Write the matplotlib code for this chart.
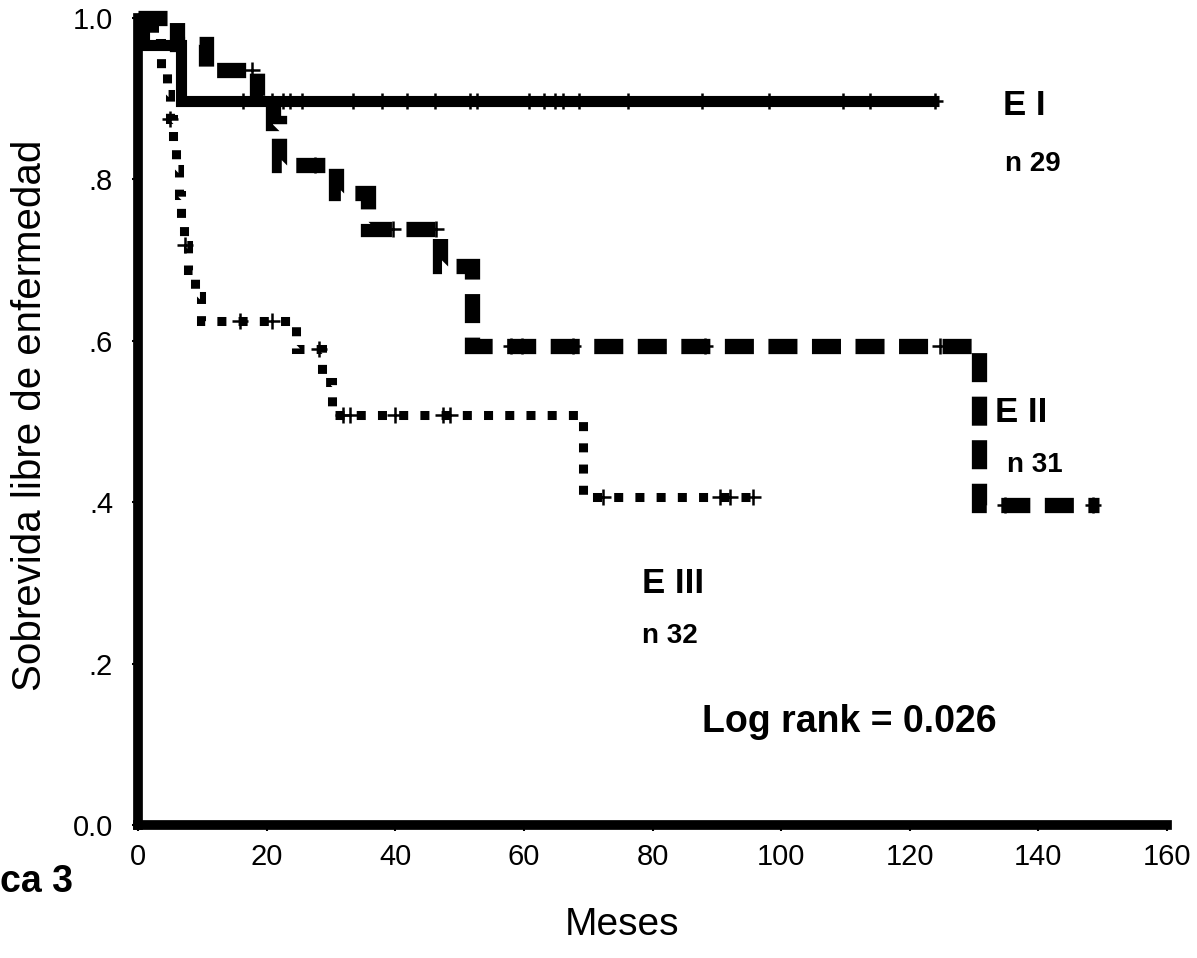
import numpy as np
import matplotlib
matplotlib.use("Agg")
import matplotlib.pyplot as plt

plt.rcParams["font.family"] = ["Liberation Sans", "DejaVu Sans"]

# ── data ──────────────────────────────────────────────────────────────────────
# E I : solid line
ei_t = [0, 1.0, 6.7]
ei_s = [1.0, 0.966, 0.897]
ei_end = 124.5
ei_cens = [16.3, 20.8, 22.6, 23.6, 25.5, 33.4, 37.9, 41.8, 46.2, 51.6, 52.7,
           60.8, 63.2, 64.9, 66.1, 68.6, 76.2, 87.7, 98.1, 109.6, 113.8, 123.9]

# E II : heavy dashed line
eii_t = [0, 6.0, 10.5, 18.5, 21.0, 22.0, 30.8, 35.8, 47.0, 52.0, 130.7]
eii_s = [1.0, 0.968, 0.935, 0.903, 0.870, 0.818, 0.783, 0.738, 0.693, 0.593, 0.397]
eii_end = 149.5
eii_cens = [17.8, 27.5, 39.7, 46.3, 58.0, 59.7, 67.7, 88.2, 124.7, 134.8, 148.5]

# E III : dotted line
eiii_t = [0, 2.5, 3.5, 4.5, 5.0, 5.4, 5.9, 6.3, 6.7, 7.2, 7.8, 8.8, 9.8,
          24.5, 28.6, 30.2, 69.2]
eiii_s = [1.0, 0.969, 0.938, 0.906, 0.875, 0.844, 0.813, 0.781, 0.750, 0.719,
          0.688, 0.656, 0.625, 0.590, 0.549, 0.508, 0.406]
eiii_end = 96.7
eiii_cens = [5.0, 7.3, 15.9, 20.8, 28.2, 31.9, 33.0, 40.0, 47.4, 48.5,
             72.3, 90.5, 92.0, 95.6]

x_ticks = [0, 20, 40, 60, 80, 100, 120, 140, 160]
y_ticks = [0.0, 0.2, 0.4, 0.6, 0.8, 1.0]
y_labels = ["0.0", ".2", ".4", ".6", ".8", "1.0"]


def step_at(t, times, surv):
    idx = np.searchsorted(times, t, side="right") - 1
    return surv[idx]


def draw_curve(ax, times, surv, end, cens, **kw):
    tt = list(times) + [end]
    ss = list(surv) + [surv[-1]]
    ax.step(tt, ss, where="post", color="black", clip_on=False,
            solid_capstyle="butt", dash_capstyle="butt",
            solid_joinstyle="miter", dash_joinstyle="miter", **kw)
    cy = [step_at(c, times, surv) for c in cens]
    ax.plot(cens, cy, linestyle="none", marker="+", markersize=12,
            markeredgewidth=1.8, color="black", clip_on=False)


fig = plt.figure(figsize=(11.97, 9.58), dpi=100)
ax = fig.add_axes([138 / 1197, 1 - 825 / 958, (1167 - 138) / 1197, (825 - 18) / 958])

draw_curve(ax, ei_t, ei_s, ei_end, ei_cens, linewidth=8, linestyle="-")
draw_curve(ax, eii_t, eii_s, eii_end, eii_cens, linewidth=11,
           linestyle=(0, (1.9, 0.95)))
draw_curve(ax, eiii_t, eiii_s, eiii_end, eiii_cens, linewidth=6.5,
           linestyle=(0, (1.0, 1.35)))

ax.set_xlim(0, 160)
ax.set_ylim(0, 1.0)
for side in ["top", "right"]:
    ax.spines[side].set_visible(False)
for side in ["left", "bottom"]:
    ax.spines[side].set_linewidth(7)
    ax.spines[side].set_capstyle("projecting")
ax.set_xticks(x_ticks)
ax.set_xticklabels([str(v) for v in x_ticks])
ax.set_yticks(y_ticks)
ax.set_yticklabels(y_labels)
ax.tick_params(axis="both", labelsize=21, length=4, width=1.5, direction="out")
ax.tick_params(axis="x", pad=9)
ax.tick_params(axis="y", pad=14)

# ── annotations ───────────────────────────────────────────────────────────────
bold = dict(fontweight="bold", color="black")
ax.text(134.5, 0.88, "E I", fontsize=25, va="baseline", **bold)
ax.text(134.8, 0.81, "n 29", fontsize=20, va="baseline", **bold)
ax.text(133.3, 0.499, "E II", fontsize=25, va="baseline", **bold)
ax.text(135.1, 0.437, "n 31", fontsize=20, va="baseline", **bold)
ax.text(78.4, 0.287, "E III", fontsize=25, va="baseline", **bold)
ax.text(78.4, 0.2255, "n 32", fontsize=20, va="baseline", **bold)
ax.text(87.7, 0.115, "Log rank = 0.026", fontsize=27, va="baseline", **bold)

fig.text(30 / 1197, 1 - 415 / 958, "Sobrevida libre de enfermedad",
         rotation=90, ha="center", va="center", fontsize=29)
fig.text(622 / 1197, 1 - 925 / 958, "Meses", ha="center", va="center", fontsize=28)
fig.text(0.0, 1 - 882 / 958, "ca 3", ha="left", va="center", fontsize=27,
         fontweight="bold")

fig.savefig("out.png", dpi=100, facecolor="white")
